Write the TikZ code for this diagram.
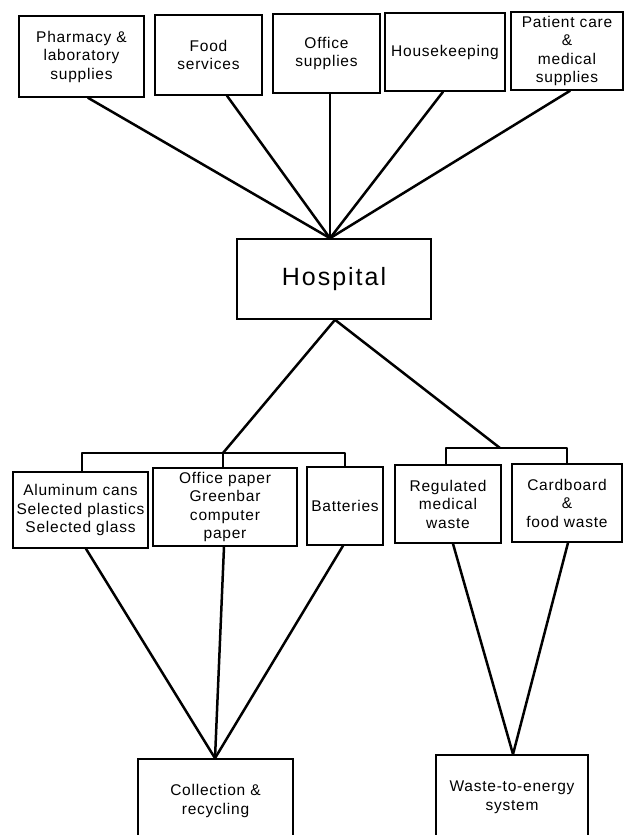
\documentclass[tikz,border=0pt]{standalone}
\usepackage{fontspec}
\setmainfont{Liberation Sans}[LetterSpace=5]
\begin{document}
\begin{tikzpicture}[x=1pt,y=-1pt,
  box/.style={draw, line width=1.6pt, align=center, inner sep=0pt,
    font=\fontsize{15.5}{18.5}\selectfont},
  link/.style={line width=2.5pt, line join=round, line cap=round}]
\useasboundingbox (0,0) rectangle (624,835);
\clip (0,0) rectangle (624,835);
\fill[white] (0,0) rectangle (624,835);
% top row
\node[box, minimum width=125, minimum height=81] (pharm) at (81.5,56.5) {Pharmacy \&\\laboratory\\supplies};
\node[box, minimum width=107, minimum height=80] (food) at (208.5,55) {Food\\services};
\node[box, minimum width=107, minimum height=79] (office) at (326.5,53.5) {Office\\supplies};
\node[box, minimum width=120, minimum height=78] (house) at (445,52) {Housekeeping};
\node[box, minimum width=112, minimum height=78] (patient) at (567,51) {Patient care\\\&\\medical\\supplies};
% hospital
\node[box, minimum width=194, minimum height=80,
  font=\fontsize{25}{30}\selectfont\addfontfeature{LetterSpace=8}] (hosp) at (334,279) {Hospital};
% middle row
\node[box, minimum width=135, minimum height=76] (alum) at (80.5,510) {Aluminum cans\\Selected plastics\\Selected glass};
\node[box, minimum width=144, minimum height=78] (paper) at (225,507) {Office paper\\Greenbar\\computer\\paper};
\node[box, minimum width=76, minimum height=78] (batt) at (345,506) {Batteries};
\node[box, minimum width=106, minimum height=78] (reg) at (448,504) {Regulated\\medical\\waste};
\node[box, minimum width=110, minimum height=78] (card) at (567,503) {Cardboard\\\&\\food waste};
% bottom row
\node[box, minimum width=155, minimum height=84] (coll) at (215.5,801) {Collection \&\\recycling};
\node[box, minimum width=152, minimum height=85] (wte) at (512,797.5) {Waste-to-energy\\system};
% junctions
\coordinate (lb) at (223,453);
\coordinate (rb) at (500,448);
% top connectors
\draw[link] ([xshift=6.5]pharm.south) -- ([xshift=-4]hosp.north);
\draw[link] ([xshift=18.5]food.south) -- ([xshift=-4]hosp.north);
\draw[link] ([xshift=3.5]office.south) -- ([xshift=-4]hosp.north);
\draw[link] ([xshift=-2]house.south) -- ([xshift=-4]hosp.north);
\draw[link] ([xshift=3]patient.south) -- ([xshift=-4]hosp.north);
% hospital to brackets
\draw[link] ([xshift=1]hosp.south) -- (lb);
\draw[link] ([xshift=1]hosp.south) -- (rb);
\draw[link, line cap=butt] ([xshift=1.5]alum.north) -- ([xshift=1.5]alum.north |- lb) -- (batt.north |- lb) -- (batt.north);
\draw[link, line cap=butt] ([xshift=-2]paper.north) -- (lb);
\draw[link, line cap=butt] ([xshift=-2]reg.north) -- ([xshift=-2]reg.north |- rb) -- (card.north |- rb) -- (card.north);
% bottom connectors
\draw[link] ([xshift=5.5]alum.south) -- ([xshift=-0.5]coll.north);
\draw[link] ([xshift=-1]paper.south) -- ([xshift=-0.5]coll.north);
\draw[link] ([xshift=-2]batt.south) -- ([xshift=-0.5]coll.north);
\draw[link] ([xshift=5]reg.south) -- ([xshift=1]wte.north);
\draw[link] ([xshift=1]card.south) -- ([xshift=1]wte.north);
\end{tikzpicture}
\end{document}
